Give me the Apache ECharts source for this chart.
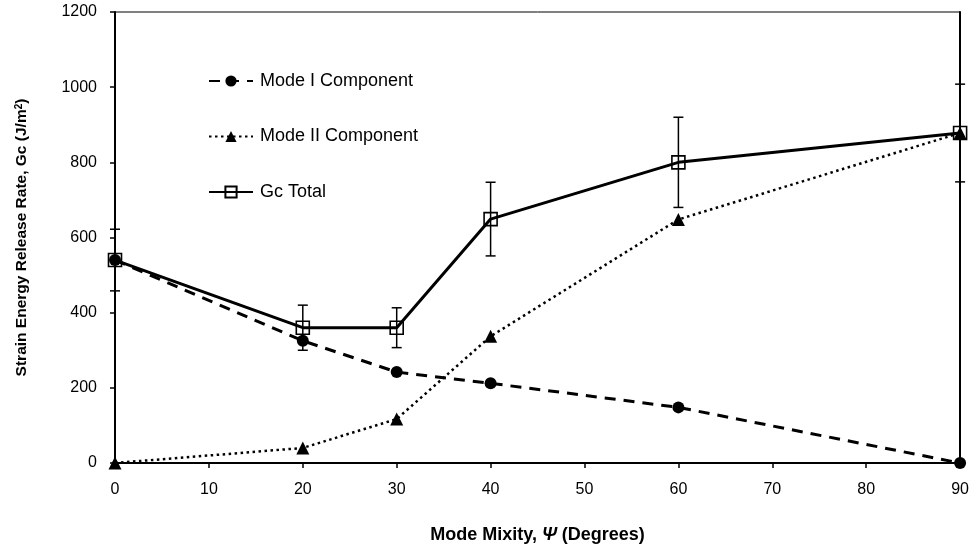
<!DOCTYPE html>
<html>
<head>
<meta charset="utf-8">
<script src="https://cdn.jsdelivr.net/npm/echarts@6/dist/echarts.min.js"></script>
<style>
  html, body { margin: 0; padding: 0; background: #fff; }
  #chart { width: 972px; height: 550px; }
</style>
</head>
<body>
<div id="chart"></div>
<script>
// Mode mixity angles (degrees)
const mixity = [0, 20, 30, 40, 60, 90];
// Mode I and Mode II components of the strain energy release rate (J/m^2)
const modeI = [540, 325, 242, 212, 148, 0];
const modeII = [0, 40, 117, 337, 648, 878];
// Total Gc and its scatter (± J/m^2)
const gcTotal = [540, 360, 360, 649, 800, 878];
const gcSpread = [82, 60, 53, 98, 120, 130];

const seriesNames = ['Mode I Component', 'Mode II Component', 'Gc Total'];

const pairs = (ys) => mixity.map((x, i) => [x, ys[i]]);
const errorData = mixity.map((x, i) => [x, gcTotal[i] - gcSpread[i], gcTotal[i] + gcSpread[i]]);

const font = '"Liberation Sans", Arial, sans-serif';

const chart = echarts.init(document.getElementById('chart'), null, { renderer: 'canvas' });

chart.setOption({
  animation: false,
  backgroundColor: '#fff',
  textStyle: { fontFamily: font, color: '#000' },
  grid: {
    left: 115, right: 10, top: 12, bottom: 87,
    show: true, borderColor: '#000', borderWidth: 1, backgroundColor: 'transparent'
  },
  legend: {
    data: seriesNames,
    orient: 'vertical',
    left: 203,
    top: 67,
    itemWidth: 44,
    itemHeight: 14,
    itemGap: 37.5,
    textStyle: { fontFamily: font, fontSize: 18, lineHeight: 18, color: '#000', padding: [0, 0, 0, 2] },
    selectedMode: false
  },
  xAxis: {
    type: 'value',
    min: 0, max: 90, interval: 10,
    name: 'Mode Mixity, {psi|Ψ} (Degrees)',
    nameLocation: 'middle',
    nameGap: 63,
    nameTextStyle: {
      fontFamily: font, fontSize: 18, fontWeight: 'bold', color: '#000',
      rich: { psi: { fontFamily: font, fontSize: 18, fontWeight: 'bold', fontStyle: 'italic', color: '#000' } }
    },
    splitLine: { show: false },
    axisLine: { lineStyle: { color: '#000', width: 2 } },
    axisTick: { inside: false, length: 5, lineStyle: { color: '#000', width: 1.5 } },
    axisLabel: { fontFamily: font, fontSize: 16, color: '#000', margin: 19 }
  },
  yAxis: [{
    type: 'value',
    min: 0, max: 1200, interval: 200,
    name: 'Strain Energy Release Rate, Gc (J/m{sup|2})',
    nameLocation: 'middle',
    nameRotate: 90,
    nameGap: 85,
    nameTextStyle: {
      fontFamily: font, fontSize: 15.5, fontWeight: 'bold', color: '#000',
      rich: { sup: { fontFamily: font, fontSize: 10, fontWeight: 'bold', color: '#000', verticalAlign: 'top', padding: [0, 0, 6, 0] } }
    },
    splitLine: { show: false },
    axisLine: { show: true, lineStyle: { color: '#000', width: 2 } },
    axisTick: { show: true, inside: false, length: 5, lineStyle: { color: '#000', width: 1.5 } },
    axisLabel: { fontFamily: font, fontSize: 16, color: '#000', margin: 18, formatter: (v) => String(v) }
  }, {
    type: 'value',
    position: 'right',
    min: 0, max: 1200, interval: 200,
    splitLine: { show: false },
    axisLine: { show: true, lineStyle: { color: '#000', width: 2 } },
    axisTick: { show: false },
    axisLabel: { show: false }
  }],
  series: [
    {
      name: 'Mode I Component',
      type: 'line',
      data: pairs(modeI),
      symbol: 'circle',
      symbolSize: 12,
      lineStyle: { color: '#000', width: 3, type: [11, 8] },
      itemStyle: { color: '#000' },
      z: 3
    },
    {
      name: 'Mode II Component',
      type: 'line',
      data: pairs(modeII),
      symbol: 'triangle',
      symbolSize: 13,
      lineStyle: { color: '#000', width: 2.5, type: [2.5, 3.5] },
      itemStyle: { color: '#000' },
      z: 3
    },
    {
      name: 'Gc Spread',
      type: 'custom',
      data: errorData,
      z: 4,
      renderItem: function (params, api) {
        const x = api.value(0);
        const lo = api.coord([x, api.value(1)]);
        const hi = api.coord([x, api.value(2)]);
        const cap = 5;
        const style = { stroke: '#000', lineWidth: 1.5 };
        return {
          type: 'group',
          children: [
            { type: 'line', shape: { x1: hi[0], y1: hi[1], x2: lo[0], y2: lo[1] }, style: style },
            { type: 'line', shape: { x1: hi[0] - cap, y1: hi[1], x2: hi[0] + cap, y2: hi[1] }, style: style },
            { type: 'line', shape: { x1: lo[0] - cap, y1: lo[1], x2: lo[0] + cap, y2: lo[1] }, style: style }
          ]
        };
      }
    },
    {
      name: 'Gc Total',
      type: 'line',
      data: pairs(gcTotal),
      symbol: 'rect',
      symbolSize: 13,
      lineStyle: { color: '#000', width: 3 },
      itemStyle: { color: 'rgba(255,255,255,0)', borderColor: '#000', borderWidth: 1.6 },
      z: 5
    }
  ]
});
</script>
</body>
</html>
